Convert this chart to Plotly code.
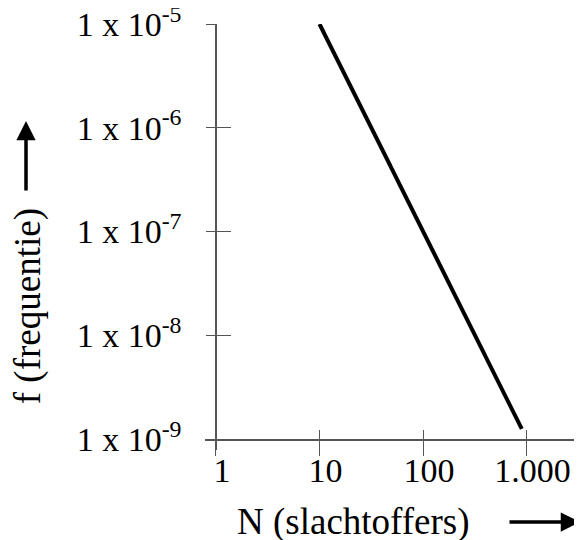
import plotly.graph_objects as go

# Data
N_values = [10, 900]
f_values = [1e-5, 1.25e-9]

x_tickvals = [1, 10, 100, 1000]
x_ticktext = ["1", "10", "100", "1.000"]
y_tickvals = [1e-9, 1e-8, 1e-7, 1e-6, 1e-5]
y_ticktext = ["1 x 10<sup>-9</sup>", "1 x 10<sup>-8</sup>", "1 x 10<sup>-7</sup>",
              "1 x 10<sup>-6</sup>", "1 x 10<sup>-5</sup>"]

FONT = "Liberation Serif"
AXC = "#555555"

fig = go.Figure()
fig.add_trace(go.Scatter(x=N_values, y=f_values, mode="lines",
                         line=dict(color="black", width=4),
                         showlegend=False, hoverinfo="skip"))
# transparent trace on overlay axes (ticks on the other side)
fig.add_trace(go.Scatter(x=N_values, y=f_values, mode="lines", xaxis="x2", yaxis="y2",
                         line=dict(color="rgba(0,0,0,0)", width=0),
                         showlegend=False, hoverinfo="skip"))

xr = [-0.106, 3.536]
yr = [-9.106, -5.0]
xpos = 0.0235
ypos = 0.0292

# page body has an 8px default margin, so the figure is 8px smaller
fig.update_layout(
    width=574, height=532,
    margin=dict(l=197, r=0, t=16, b=90, autoexpand=False),
    paper_bgcolor="white", plot_bgcolor="white",
    showlegend=False,
    font=dict(family=FONT, size=34, color="black"),
    xaxis=dict(type="log", range=xr, domain=[0, 1], anchor="free", position=xpos,
               automargin=False, ticklabeloverflow="allow",
               showline=True, linecolor=AXC, linewidth=1.5,
               ticks="inside", ticklen=9, tickwidth=1.2, tickcolor=AXC,
               tickvals=x_tickvals, ticktext=x_ticktext,
               ticklabelshift=6,
               showgrid=False, zeroline=False,
               tickfont=dict(family=FONT, size=34, color="black")),
    xaxis2=dict(type="log", range=xr, domain=[0, 1], anchor="free", position=xpos,
                automargin=False,
                overlaying="x", showline=False,
                ticks="outside", ticklen=15, tickwidth=1.2, tickcolor=AXC,
                tickvals=x_tickvals, showticklabels=False,
                showgrid=False, zeroline=False),
    yaxis=dict(type="log", range=yr, domain=[0, 1], anchor="free", position=ypos,
               automargin=False, ticklabeloverflow="allow",
               showline=True, linecolor=AXC, linewidth=1.5,
               ticks="outside", ticklen=9, tickwidth=1.2, tickcolor=AXC,
               tickvals=y_tickvals, ticktext=y_ticktext,
               ticklabelstandoff=18,
               showgrid=False, zeroline=False,
               tickfont=dict(family=FONT, size=34, color="black")),
    yaxis2=dict(type="log", range=yr, domain=[0, 1], anchor="free", position=ypos,
                automargin=False,
                overlaying="y", showline=False,
                ticks="inside", ticklen=14, tickwidth=1.2, tickcolor=AXC,
                tickvals=y_tickvals, showticklabels=False,
                showgrid=False, zeroline=False),
)

annotations = [
    dict(text="f (frequentie)", xref="paper", yref="paper", x=-0.469, y=0.338,
         textangle=-90, showarrow=False, xanchor="center", yanchor="middle",
         font=dict(family=FONT, size=37, color="black")),
    dict(text="N (slachtoffers)", xref="paper", yref="paper", x=0.3926, y=-0.169,
         showarrow=False, xanchor="center", yanchor="middle",
         font=dict(family=FONT, size=37, color="black")),
    # up arrow
    dict(text="", xref="paper", yref="paper", x=(26 - 205) / 377, y=(450 - 121) / 426,
         ax=0, ay=71, showarrow=True, arrowhead=2, arrowsize=1.1, arrowwidth=3.5,
         arrowcolor="black"),
    # right arrow
    dict(text="", xref="paper", yref="paper", x=(580 - 205) / 377, y=(450 - 522) / 426,
         ax=-72, ay=0, showarrow=True, arrowhead=2, arrowsize=1.1, arrowwidth=3.5,
         arrowcolor="black"),
]
fig.update_layout(annotations=annotations)

fig.write_html("out.html")
